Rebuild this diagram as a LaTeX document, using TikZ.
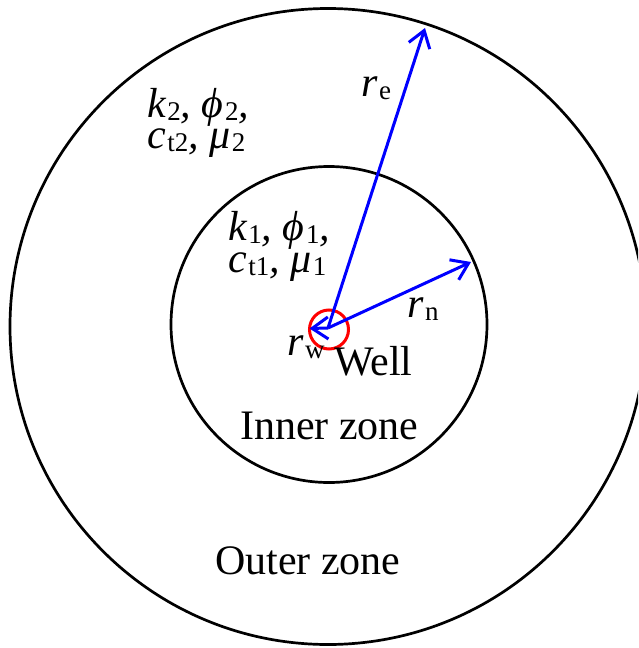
\documentclass[tikz,border=0pt]{standalone}
\usepackage{fontspec}
\setmainfont{Liberation Serif}
\usetikzlibrary{arrows.meta}
\newcommand{\sbs}[1]{\kern1.5pt\raisebox{-3pt}{\fontsize{27}{27}\selectfont\upshape #1}}
\begin{document}
\begin{tikzpicture}[x=1pt,y=-1pt,
  zone/.style={draw=black,line width=2.7pt},
  wellc/.style={draw=red,line width=3pt},
  radius arrow/.style={draw=blue,line width=3pt,-{Straight Barb[length=16pt,width=22pt,line width=3pt]}},
  lbl/.style={anchor=base west,inner sep=0pt,font=\fontsize{42}{44}\selectfont},
  params/.style={anchor=base west,inner sep=0pt,align=left,font=\fontsize{42}{31.5}\selectfont\itshape}]
\useasboundingbox (0,0) rectangle (638,648);
\begin{scope}
\clip (0,0) rectangle (638,648);
\draw[zone] (328,326.5) circle[radius=318];
\end{scope}
\draw[zone] (329,324.5) circle[radius=158];
\draw[wellc] (329,329.5) circle[radius=19.5];
\coordinate (c) at (328,328);
\coordinate (re) at (425,28);
\coordinate (rn) at (471,262);
\coordinate (rw) at (309.5,328.5);
\draw[radius arrow] (c) -- (re);
\draw[radius arrow] (c) -- (rn);
\draw[radius arrow] (c) -- (rw);
\node[params] (p2) at (147,148.5) {k\sbs{2}, ϕ\sbs{2},\\c\sbs{t2}, μ\sbs{2}};
\node[params] (p1) at (228,272) {k\sbs{1}, ϕ\sbs{1},\\c\sbs{t1}, μ\sbs{1}};
\node[lbl] (lre) at (361,96.5) {\itshape r\sbs{e}};
\node[lbl] (lrn) at (407,317) {\itshape r\sbs{n}};
\node[lbl] (lrw) at (287,355) {\itshape r\sbs{w}};
\node[lbl] (well) at (334,375) {Well};
\node[lbl] (inner) at (240,439) {Inner zone};
\node[lbl] (outer) at (215,574.5) {Outer zone};
\end{tikzpicture}
\end{document}
